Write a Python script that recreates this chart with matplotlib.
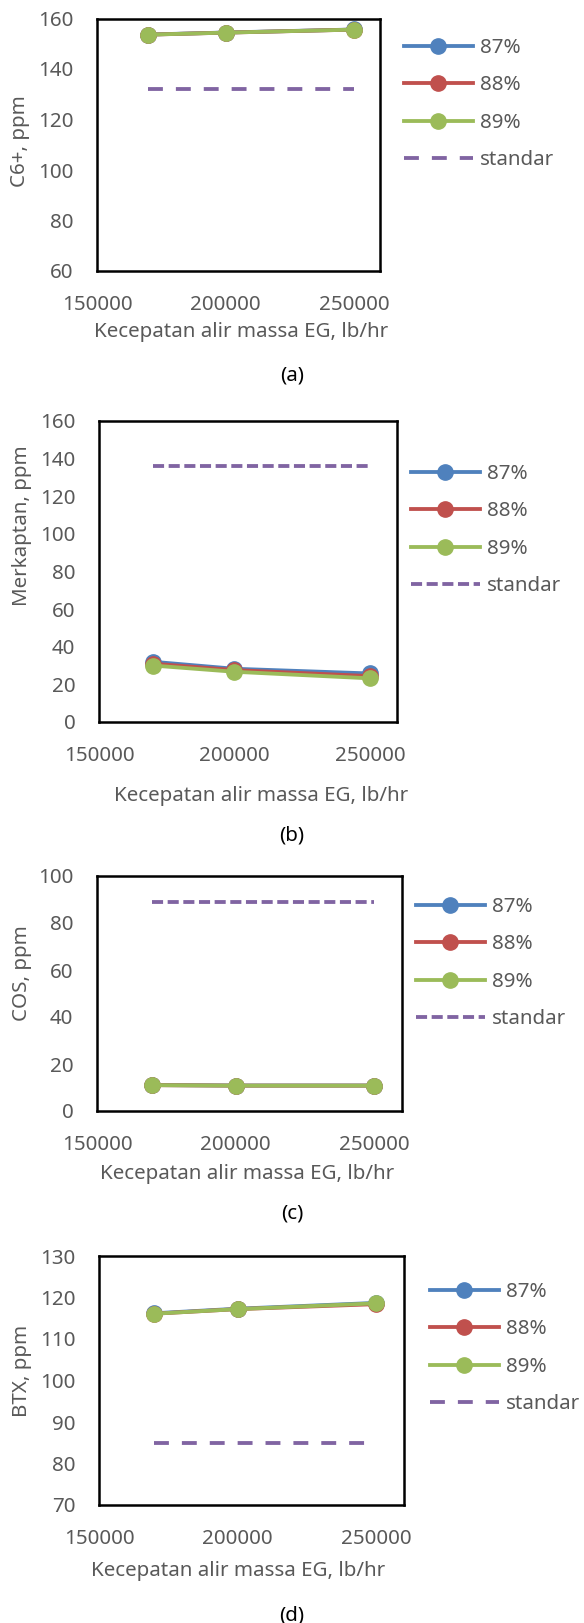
import matplotlib
matplotlib.use("Agg")
import matplotlib.pyplot as plt

plt.rcParams['font.family'] = ['Noto Sans', 'DejaVu Sans']

# mass flow of EG, lb/hr
flow = [170000, 200000, 250000]

# (a) C6+, ppm
c6_87 = [153.65, 154.45, 155.65]
c6_88 = [153.6, 154.4, 155.6]
c6_89 = [153.6, 154.4, 155.6]
c6_std = [132, 132, 132]

# (b) merkaptan, ppm
merk_87 = [32.0, 28.3, 25.8]
merk_88 = [31.0, 27.6, 24.4]
merk_89 = [30.0, 26.7, 23.2]
merk_std = [136, 136, 136]

# (c) COS, ppm
cos_87 = [11.05, 10.85, 10.85]
cos_88 = [11.0, 10.8, 10.8]
cos_89 = [11.0, 10.8, 10.8]
cos_std = [89, 89, 89]

# (d) BTX, ppm
btx_87 = [116.2, 117.3, 118.7]
btx_88 = [116.1, 117.2, 118.4]
btx_89 = [116.1, 117.2, 118.6]
btx_std = [85, 85, 85]

series_names = ['87%', '88%', '89%', 'standar']
colors = ['#4F81BD', '#C0504D', '#9BBB59', '#8064A2']
text_gray = '#595959'

W, H = 584, 1623
fig = plt.figure(figsize=(W / 100, H / 100), dpi=100)


def fx(px):
    return px / W


def fy(py):
    return 1 - py / H


FS = 14.8
LW = 2.75

panels = [
    dict(data=[c6_87, c6_88, c6_89, c6_std], box=(97, 18.5, 380, 271), ylim=(60, 160), ystep=20,
         ylabel='C6+, ppm', ylab_pos=(20, 141), xlab_pos=(241, 332), cap='(a)', cap_y=375,
         leg=(404, 104), dash=(3.9, 3.4)),
    dict(data=[merk_87, merk_88, merk_89, merk_std], box=(99, 421, 397, 722), ylim=(0, 160), ystep=20,
         ylabel='Merkaptan, ppm', ylab_pos=(22, 526), xlab_pos=(261, 796), cap='(b)', cap_y=835,
         leg=(411, 530), dash=(2.9, 1.2)),
    dict(data=[cos_87, cos_88, cos_89, cos_std], box=(97, 876, 402, 1111), ylim=(0, 100), ystep=20,
         ylabel='COS, ppm', ylab_pos=(22, 973), xlab_pos=(247, 1174), cap='(c)', cap_y=1214,
         leg=(416, 963), dash=(2.9, 1.2)),
    dict(data=[btx_87, btx_88, btx_89, btx_std], box=(99, 1256, 404, 1505), ylim=(70, 130), ystep=10,
         ylabel='BTX, ppm', ylab_pos=(22, 1371), xlab_pos=(238, 1571), cap='(d)', cap_y=1616,
         leg=(430, 1348), dash=(3.9, 3.4)),
]

for p in panels:
    l, t, r, b = p['box']
    ax = fig.add_axes([fx(l), fy(b), fx(r) - fx(l), fy(t) - fy(b)])
    for i, vals in enumerate(p['data']):
        if series_names[i] == 'standar':
            ax.plot(flow, vals, color=colors[i], lw=LW, dashes=p['dash'],
                    label=series_names[i], dash_capstyle='butt')
        else:
            ax.plot(flow, vals, color=colors[i], lw=LW, marker='o', markersize=11,
                    label=series_names[i])
    ax.set_xlim(150000, 260000)
    ax.set_xticks([150000, 200000, 250000])
    y0, y1 = p['ylim']
    ax.set_ylim(y0, y1)
    ax.set_yticks(list(range(y0, y1 + 1, p['ystep'])))
    ax.tick_params(length=0, labelsize=FS, labelcolor=text_gray, pad=17)
    for s in ax.spines.values():
        s.set_linewidth(1.8)
        s.set_color('black')

    ax.set_xlabel('Kecepatan alir massa EG, lb/hr', fontsize=FS, color=text_gray)
    ax.xaxis.label.set_va('center')
    ax.xaxis.set_label_coords(fx(p['xlab_pos'][0]), fy(p['xlab_pos'][1]), transform=fig.transFigure)
    ax.set_ylabel(p['ylabel'], fontsize=FS, color=text_gray)
    ax.yaxis.label.set_va('center')
    ax.yaxis.set_label_coords(fx(p['ylab_pos'][0]), fy(p['ylab_pos'][1]), transform=fig.transFigure)

    leg = ax.legend(loc='center left', bbox_to_anchor=(fx(p['leg'][0]), fy(p['leg'][1])),
                    bbox_transform=fig.transFigure, frameon=False, fontsize=FS,
                    handlelength=3.35, handletextpad=0.34, labelspacing=0.85,
                    borderpad=0, borderaxespad=0)
    for txt in leg.get_texts():
        txt.set_color(text_gray)

    fig.text(fx(292), fy(p['cap_y']), p['cap'], fontsize=FS, color='black',
             ha='center', va='center')

fig.savefig('out.png', dpi=100)
